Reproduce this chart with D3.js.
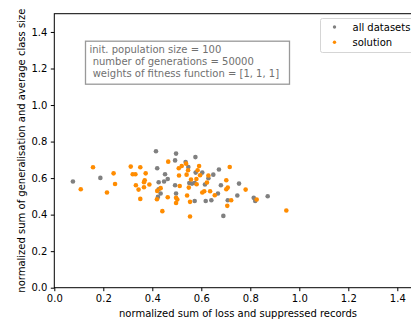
<!DOCTYPE html>
<style>
    body{margin:0;background:#fff;}
    text{font-family:"DejaVu Sans",sans-serif;}
</style>
<div class="chart"></div>
<script src="https://d3js.org/d3.v7.min.js"></script>
<script>

// all datasets (grey)
var allX = [0.076,0.188,0.415,0.420,0.497,0.493,0.576,0.536,0.547,0.452,0.463,0.426,0.448,0.493,0.426,0.434,0.423,0.497,0.604,0.577,0.551,0.562,0.573,0.615,0.649,0.629,0.672,0.680,0.668,0.641,0.618,0.573,0.690,0.708,0.747,0.754,0.814,0.820,0.871];
var allY = [0.581,0.601,0.747,0.654,0.734,0.697,0.715,0.688,0.661,0.621,0.595,0.577,0.581,0.561,0.539,0.516,0.497,0.516,0.630,0.630,0.573,0.570,0.573,0.565,0.619,0.599,0.647,0.561,0.516,0.479,0.475,0.475,0.393,0.479,0.505,0.570,0.492,0.475,0.501];

// solution (orange)
var solX = [0.108,0.158,0.215,0.242,0.248,0.312,0.320,0.331,0.333,0.351,0.373,0.344,0.351,0.369,0.366,0.366,0.388,0.441,0.419,0.420,0.434,0.463,0.465,0.497,0.497,0.502,0.508,0.520,0.509,0.512,0.538,0.540,0.546,0.542,0.549,0.554,0.554,0.558,0.580,0.581,0.585,0.591,0.595,0.604,0.612,0.623,0.629,0.636,0.655,0.702,0.708,0.702,0.716,0.722,0.706,0.781,0.826,0.947];
var solY = [0.539,0.659,0.521,0.626,0.568,0.663,0.621,0.621,0.561,0.659,0.626,0.537,0.486,0.588,0.577,0.550,0.565,0.419,0.484,0.530,0.545,0.495,0.690,0.492,0.464,0.483,0.654,0.666,0.614,0.557,0.679,0.619,0.643,0.505,0.548,0.470,0.390,0.592,0.595,0.566,0.643,0.666,0.616,0.521,0.528,0.576,0.614,0.528,0.506,0.588,0.548,0.539,0.661,0.479,0.448,0.537,0.483,0.423];

var ticks = [0.0,0.2,0.4,0.6,0.8,1.0,1.2,1.4];
var infoLines = ["init. population size = 100", " number of generations = 50000", " weights of fitness function = [1, 1, 1]"];
var legendNames = ["all datasets", "solution"];

var svg = d3.select(".chart").append("svg").attr("width", 411).attr("height", 325),
    pLeft = 54.3, pTop = 13.7, pBottom = 287.7, pRight = 421.8;

var x = d3.scaleLinear().domain([0, 1.5]).range([pLeft, pRight]);
var y = d3.scaleLinear().domain([0, 1.5]).range([pBottom, pTop]);

var fmt = d3.format(".1f");

svg.append("g")
    .attr("transform", "translate(0," + pBottom + ")")
    .call(d3.axisBottom(x).tickValues(ticks).tickFormat(fmt).tickSizeOuter(0).tickSize(3.5).tickPadding(3.5))
    .call(function(g){ g.select(".domain").remove(); })
    .selectAll("text").attr("font-size", 10).attr("font-family", "DejaVu Sans").attr("fill", "#000");

svg.append("g")
    .attr("transform", "translate(" + pLeft + ",0)")
    .call(d3.axisLeft(y).tickValues(ticks).tickFormat(fmt).tickSizeOuter(0).tickSize(3.5).tickPadding(3.5))
    .call(function(g){ g.select(".domain").remove(); })
    .selectAll("text").attr("font-size", 10).attr("font-family", "DejaVu Sans").attr("fill", "#000");

// spines
svg.append("rect")
    .attr("x", pLeft).attr("y", pTop)
    .attr("width", pRight - pLeft).attr("height", pBottom - pTop)
    .attr("fill", "none").attr("stroke", "#000").attr("stroke-width", 1);

svg.append("g").selectAll("circle")
    .data(allX.map(function(v, i){ return [v, allY[i]]; }))
    .enter().append("circle")
    .attr("cx", function(d){ return x(d[0]); })
    .attr("cy", function(d){ return y(d[1]); })
    .attr("r", 2.3)
    .attr("fill", "#808080");

svg.append("g").selectAll("circle")
    .data(solX.map(function(v, i){ return [v, solY[i]]; }))
    .enter().append("circle")
    .attr("cx", function(d){ return x(d[0]); })
    .attr("cy", function(d){ return y(d[1]); })
    .attr("r", 2.3)
    .attr("fill", "#ff8c00");

// axis labels
svg.append("text")
    .attr("x", (pLeft + pRight) / 2).attr("y", 316.5)
    .attr("text-anchor", "middle").attr("font-size", 10)
    .text("normalized sum of loss and suppressed records");

svg.append("text")
    .attr("transform", "translate(24.5," + (pTop + pBottom) / 2 + ") rotate(-90)")
    .attr("text-anchor", "middle").attr("font-size", 10)
    .text("normalized sum of generalisation and average class size");

// info box
svg.append("rect")
    .attr("x", 85.5).attr("y", 41.2).attr("width", 204).attr("height", 43)
    .attr("fill", "#fff").attr("stroke", "#999").attr("stroke-width", 1.3);

svg.append("g").selectAll("text")
    .data(infoLines)
    .enter().append("text")
    .attr("x", 89.5)
    .attr("y", function(d, i){ return 53 + i * 11.8; })
    .attr("font-size", 10)
    .attr("fill", "#707070")
    .style("white-space", "pre")
    .text(function(d){ return d; });

// legend
svg.append("rect")
    .attr("x", 320.5).attr("y", 18.5).attr("width", 110).attr("height", 34)
    .attr("rx", 2)
    .attr("fill", "#fff").attr("fill-opacity", 0.8)
    .attr("stroke", "#d5d5d5").attr("stroke-width", 1);

var leg = svg.append("g").selectAll("g")
    .data(legendNames)
    .enter().append("g")
    .attr("transform", function(d, i){ return "translate(334.5," + (27 + i * 15.3) + ")"; });

leg.append("circle").attr("r", 1.7)
    .attr("fill", function(d, i){ return i === 0 ? "#808080" : "#ff8c00"; });

leg.append("text").attr("x", 18).attr("y", 3.6).attr("font-size", 10)
    .text(function(d){ return d; });

</script>
